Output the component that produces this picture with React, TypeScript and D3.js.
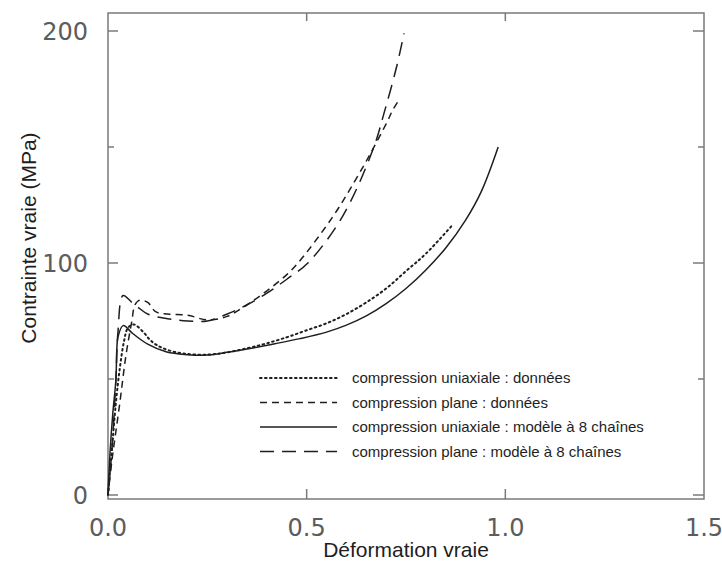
import React from "react";
import * as d3 from "d3";

const W = 722;
const H = 563;

// strain, stress (MPa)
const uniaxialData: [number, number][] = [
  [0, 0], [0.01, 20], [0.02, 40], [0.03, 55], [0.04, 66], [0.05, 72], [0.065, 73.5],
  [0.09, 70], [0.106, 66.8], [0.123, 64.6], [0.15, 62.5], [0.19, 61], [0.25, 60.5],
  [0.3, 61.5], [0.383, 64.6], [0.45, 68], [0.5, 71], [0.55, 74], [0.6, 78], [0.65, 83],
  [0.7, 89], [0.75, 96.5], [0.8, 104], [0.865, 116],
];
const planeData: [number, number][] = [
  [0, 0], [0.01, 15], [0.03, 40], [0.045, 60], [0.06, 75], [0.068, 82], [0.08, 84],
  [0.1, 83], [0.12, 79], [0.15, 78], [0.2, 77.5], [0.25, 75.5], [0.3, 77], [0.35, 82],
  [0.4, 88], [0.45, 95], [0.483, 101], [0.566, 120], [0.62, 135], [0.66, 147],
  [0.7, 160], [0.717, 166], [0.735, 171],
];
const uniaxialModel: [number, number][] = [
  [0, 0], [0.005, 18], [0.012, 35], [0.02, 50], [0.022, 62], [0.025, 68], [0.038, 73],
  [0.063, 69.5], [0.1, 65], [0.148, 61.6], [0.2, 60.5], [0.25, 60.3], [0.3, 61.5],
  [0.365, 63.4], [0.42, 65.2], [0.483, 67.4], [0.55, 70.2], [0.6, 73.2], [0.65, 77.2],
  [0.7, 82.5], [0.75, 89], [0.8, 97], [0.85, 106.5], [0.9, 118.5], [0.94, 131], [0.982, 150],
];
const planeModel: [number, number][] = [
  [0, 0], [0.01, 20], [0.02, 50], [0.025, 70], [0.038, 86], [0.06, 83], [0.075, 81],
  [0.1, 78], [0.15, 76], [0.2, 75], [0.25, 75], [0.3, 78], [0.35, 82], [0.4, 87],
  [0.45, 93], [0.503, 100], [0.59, 120], [0.667, 149], [0.697, 166], [0.727, 185],
  [0.745, 199],
];

const seriesNames = [
  "compression uniaxiale : données",
  "compression plane : données",
  "compression uniaxiale : modèle à 8 chaînes",
  "compression plane : modèle à 8 chaînes",
];
const seriesDash = ["1.6,3.4", "7,5", "none", "14,8"];

const xTicks = [0, 0.5, 1.0, 1.5];
const xTickLabels = ["0.0", "0.5", "1.0", "1.5"];
const yMajor = [0, 100, 200];
const yMinor = [50, 150];

export default function App() {
  const left = 108, right = 704, top = 13, bottom = 499;
  const x = d3.scaleLinear().domain([0, 1.5]).range([left, right]);
  const y = d3.scaleLinear().domain([0, 200]).range([495, 31]);
  const line = d3
    .line<[number, number]>()
    .x((d) => x(d[0]))
    .y((d) => y(d[1]))
    .curve(d3.curveCatmullRom.alpha(0.5));
  const all = [uniaxialData, planeData, uniaxialModel, planeModel];
  const frame = "#7a7a7a";
  const ink = "#1e1e1e";
  const legendY0 = 378;
  const legendDy = 24.5;

  return (
    <svg width={W} height={H} style={{ display: "block", position: "absolute", left: 0, top: 0 }}>
      <rect x={0} y={0} width={W} height={H} fill="#fff" />
      {/* frame */}
      <rect x={left} y={top} width={right - left} height={bottom - top} fill="none" stroke={frame} strokeWidth={1.5} />
      {/* y ticks */}
      {yMajor.map((v) => (
        <g key={"ym" + v}>
          <line x1={left} x2={left + 10} y1={y(v)} y2={y(v)} stroke={frame} strokeWidth={1.5} />
          <line x1={right} x2={right - 11} y1={y(v)} y2={y(v)} stroke={frame} strokeWidth={1.5} />
          <text x={88} y={y(v)} dy="0.36em" textAnchor="end" fontFamily="DejaVu Sans" fontSize={24} fill="#5c5c5c">
            {v}
          </text>
        </g>
      ))}
      {yMinor.map((v) => (
        <g key={"yn" + v}>
          <line x1={left} x2={left + 6} y1={y(v)} y2={y(v)} stroke={frame} strokeWidth={1.5} />
          <line x1={right} x2={right - 6} y1={y(v)} y2={y(v)} stroke={frame} strokeWidth={1.5} />
        </g>
      ))}
      {/* x ticks */}
      {xTicks.map((v, i) => (
        <g key={"x" + v}>
          {i > 0 && i < xTicks.length - 1 && (
            <>
              <line x1={x(v)} x2={x(v)} y1={bottom} y2={bottom - 10} stroke={frame} strokeWidth={1.5} />
              <line x1={x(v)} x2={x(v)} y1={top} y2={top + 8} stroke={frame} strokeWidth={1.5} />
            </>
          )}
          <text x={x(v)} y={527} dy="0.36em" textAnchor="middle" fontFamily="DejaVu Sans" fontSize={24} fill="#5c5c5c">
            {xTickLabels[i]}
          </text>
        </g>
      ))}
      {/* axis titles */}
      <text x={(left + right) / 2} y={557} textAnchor="middle" fontFamily="Liberation Sans" fontSize={21} fill={ink}>
        Déformation vraie
      </text>
      <text
        transform={`translate(36, ${(top + bottom) / 2 - 18}) rotate(-90)`}
        textAnchor="middle"
        fontFamily="Liberation Sans"
        fontSize={21}
        fill={ink}
      >
        Contrainte vraie (MPa)
      </text>
      {/* curves */}
      {all.map((s, i) => (
        <path
          key={"s" + i}
          d={line(s) || ""}
          fill="none"
          stroke={ink}
          strokeWidth={i === 0 ? 2 : 1.5}
          strokeLinecap={i === 0 ? "round" : "butt"}
          strokeDasharray={seriesDash[i]}
        />
      ))}
      {/* legend */}
      {seriesNames.map((name, i) => (
        <g key={"l" + i}>
          <line
            x1={260}
            x2={337}
            y1={legendY0 + i * legendDy}
            y2={legendY0 + i * legendDy}
            stroke={ink}
            strokeWidth={i === 0 ? 2 : 1.5}
            strokeLinecap={i === 0 ? "round" : "butt"}
            strokeDasharray={seriesDash[i]}
          />
          <text x={352} y={legendY0 + i * legendDy} dy="0.35em" fontFamily="Liberation Sans" fontSize={15} fill={ink}>
            {name}
          </text>
        </g>
      ))}
    </svg>
  );
}
